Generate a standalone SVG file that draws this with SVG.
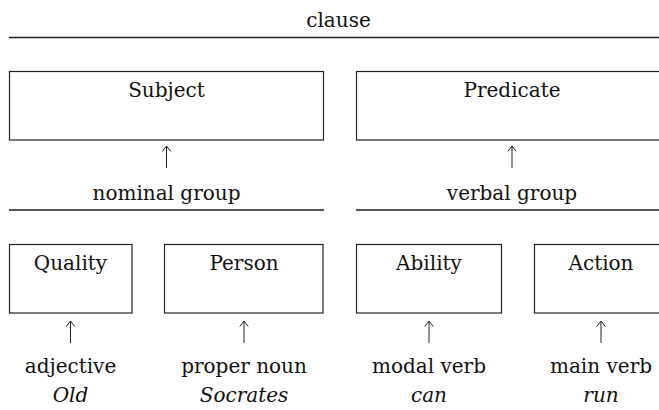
<svg xmlns="http://www.w3.org/2000/svg" width="659" height="410" viewBox="0 0 659 410">
<style>
  .t { font-family: "DejaVu Serif", "Liberation Serif", serif; font-size: 20px; fill: #111; text-anchor: middle; }
  .i { font-style: italic; }
  .box { fill: #fff; stroke: #222; stroke-width: 1.2; }
  .rule { stroke: #222; stroke-width: 1.3; fill: none; }
  .arr { stroke: #222; stroke-width: 1; fill: none; }
</style>
<defs>
  <marker id="head" viewBox="0 0 8 10" refX="6.5" refY="5" markerWidth="8" markerHeight="10" markerUnits="userSpaceOnUse" orient="auto">
    <path d="M1 0.8 L6.5 5 L1 9.2" stroke="#222" stroke-width="1" fill="none"/>
  </marker>
</defs>
<rect width="659" height="410" fill="#fff"/>

<g id="clause">
  <text class="t" x="338.5" y="27">clause</text>
  <line class="rule" x1="9" y1="37.5" x2="670" y2="37.5"/>
</g>

<g id="subject">
  <rect class="box" x="9.5" y="71.5" width="314" height="68.5"/>
  <text class="t" x="166.5" y="97">Subject</text>
</g>
<g id="predicate">
  <rect class="box" x="356.5" y="71.5" width="320" height="68.5"/>
  <text class="t" x="512" y="97">Predicate</text>
</g>

<g id="nominal-group">
  <text class="t" x="166.5" y="200">nominal group</text>
  <line class="rule" x1="9" y1="210" x2="324" y2="210"/>
</g>
<g id="verbal-group">
  <text class="t" x="512" y="200">verbal group</text>
  <line class="rule" x1="356" y1="210" x2="670" y2="210"/>
</g>

<g id="quality">
  <rect class="box" x="9.5" y="244.5" width="122.5" height="68.5"/>
  <text class="t" x="70.5" y="270">Quality</text>
</g>
<g id="person">
  <rect class="box" x="164.5" y="244.5" width="158.5" height="68.5"/>
  <text class="t" x="244" y="270">Person</text>
</g>
<g id="ability">
  <rect class="box" x="356.5" y="244.5" width="145" height="68.5"/>
  <text class="t" x="429" y="270">Ability</text>
</g>
<g id="action">
  <rect class="box" x="534.5" y="244.5" width="140" height="68.5"/>
  <text class="t" x="601" y="270">Action</text>
</g>

<g id="adjective">
  <text class="t" x="70.5" y="373">adjective</text>
  <text class="t i" x="70.5" y="402">Old</text>
</g>
<g id="proper-noun">
  <text class="t" x="244" y="373">proper noun</text>
  <text class="t i" x="244" y="402">Socrates</text>
</g>
<g id="modal-verb">
  <text class="t" x="429" y="373">modal verb</text>
  <text class="t i" x="429" y="402">can</text>
</g>
<g id="main-verb">
  <text class="t" x="601" y="373">main verb</text>
  <text class="t i" x="601" y="402">run</text>
</g>

<g id="connectors">
  <line class="arr" x1="166.5" y1="168" x2="166.5" y2="146" marker-end="url(#head)"/>
  <line class="arr" x1="512" y1="168" x2="512" y2="146" marker-end="url(#head)"/>
  <line class="arr" x1="70.5" y1="343" x2="70.5" y2="321" marker-end="url(#head)"/>
  <line class="arr" x1="244" y1="343" x2="244" y2="321" marker-end="url(#head)"/>
  <line class="arr" x1="429" y1="343" x2="429" y2="321" marker-end="url(#head)"/>
  <line class="arr" x1="601" y1="343" x2="601" y2="321" marker-end="url(#head)"/>
</g>
</svg>
